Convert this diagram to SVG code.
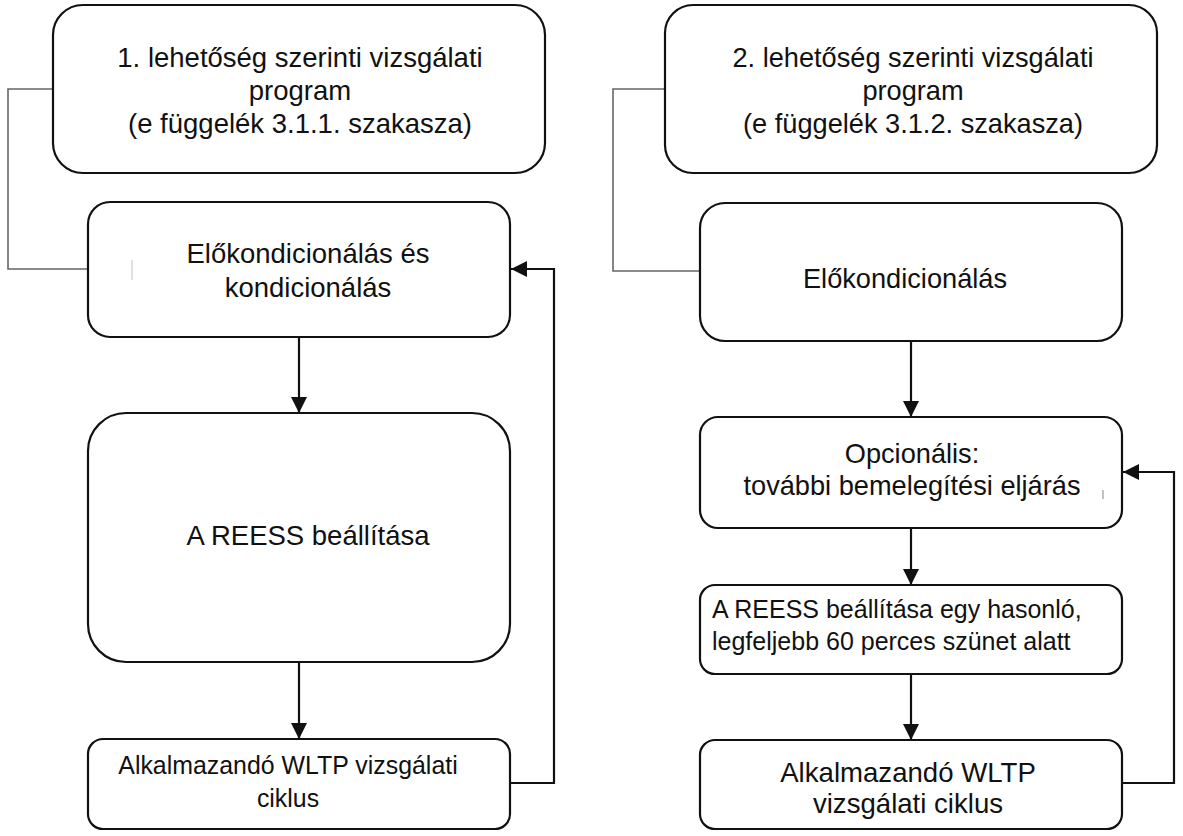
<svg xmlns="http://www.w3.org/2000/svg" width="1183" height="836" viewBox="0 0 1183 836">
<style>
.box{fill:#fff;stroke:#111;stroke-width:2.2}
.t{font-family:"Liberation Sans",Arial,sans-serif;font-size:27.5px;fill:#111;text-anchor:middle}
.tr{font-family:"Liberation Sans",Arial,sans-serif;font-size:27.2px;fill:#111;text-anchor:middle}
.ts{font-family:"Liberation Sans",Arial,sans-serif;font-size:25px;fill:#111}
.c{fill:none;stroke:#111;stroke-width:2.2}
.g{fill:none;stroke:#666;stroke-width:1.6}
.mark{stroke:#ccc;stroke-width:1.2}
</style>
<defs>
<marker id="ah" viewBox="0 0 16 16" refX="16" refY="8" markerWidth="16" markerHeight="16" markerUnits="userSpaceOnUse" orient="auto">
<path d="M0,0 L16,8 L0,16 Z" fill="#111"/>
</marker>
</defs>
<rect width="1183" height="836" fill="#fff"/>
<g id="connectors">
<polyline class="g" points="53,89 8,89 8,269 88,269"/>
<polyline class="g" points="665,89 613,89 613,271 700,271"/>
<line class="c" x1="299" y1="337" x2="299" y2="413" marker-end="url(#ah)"/>
<line class="c" x1="299" y1="662" x2="299" y2="739" marker-end="url(#ah)"/>
<polyline class="c" points="510,783 554,783 554,269 511,269" marker-end="url(#ah)"/>
<line class="c" x1="911" y1="341" x2="911" y2="417" marker-end="url(#ah)"/>
<line class="c" x1="911" y1="528" x2="911" y2="585" marker-end="url(#ah)"/>
<line class="c" x1="911" y1="674" x2="911" y2="740" marker-end="url(#ah)"/>
<polyline class="c" points="1122,783 1174,783 1174,472 1123,472" marker-end="url(#ah)"/>
</g>
<g id="n1">
<rect class="box" x="53" y="5" width="492" height="168" rx="30"/>
<text class="t" x="300" y="67">1. lehetőség szerinti vizsgálati</text>
<text class="t" x="300" y="100">program</text>
<text class="t" x="300" y="133">(e függelék 3.1.1. szakasza)</text>
</g>
<g id="n2">
<rect class="box" x="88" y="202" width="422" height="135" rx="22"/>
<line class="mark" x1="132" y1="260" x2="132" y2="280"/>
<text class="t" x="308" y="263">Előkondicionálás és</text>
<text class="t" x="308" y="297">kondicionálás</text>
</g>
<g id="n3">
<rect class="box" x="88" y="413" width="422" height="249" rx="38"/>
<text class="t" x="308" y="545">A REESS beállítása</text>
</g>
<g id="n4">
<rect class="box" x="88" y="739" width="422" height="90" rx="15"/>
<text class="t" x="288" y="774" style="font-size:24.9px">Alkalmazandó WLTP vizsgálati</text>
<text class="t" x="288" y="807" style="font-size:24.9px">ciklus</text>
</g>
<g id="n5">
<rect class="box" x="665" y="5" width="492" height="168" rx="28"/>
<text class="tr" x="913" y="67">2. lehetőség szerinti vizsgálati</text>
<text class="tr" x="913" y="100">program</text>
<text class="tr" x="913" y="133">(e függelék 3.1.2. szakasza)</text>
</g>
<g id="n6">
<rect class="box" x="700" y="203" width="422" height="138" rx="25"/>
<text class="tr" x="905" y="288">Előkondicionálás</text>
</g>
<g id="n7">
<rect class="box" x="700" y="417" width="422" height="111" rx="18"/>
<text class="tr" x="912" y="463">Opcionális:</text>
<text class="tr" x="912" y="495">további bemelegítési eljárás</text>
<line class="mark" x1="1103" y1="490" x2="1103" y2="499" style="stroke:#999"/>
</g>
<g id="n8">
<rect class="box" x="700" y="585" width="422" height="89" rx="15"/>
<text class="ts" x="712" y="618">A REESS beállítása egy hasonló,</text>
<text class="ts" x="712" y="650">legfeljebb 60 perces szünet alatt</text>
</g>
<g id="n9">
<rect class="box" x="700" y="740" width="422" height="89" rx="15"/>
<text class="tr" x="908" y="782" style="font-size:27.6px">Alkalmazandó WLTP</text>
<text class="tr" x="908" y="813" style="font-size:27.6px">vizsgálati ciklus</text>
</g>
</svg>
